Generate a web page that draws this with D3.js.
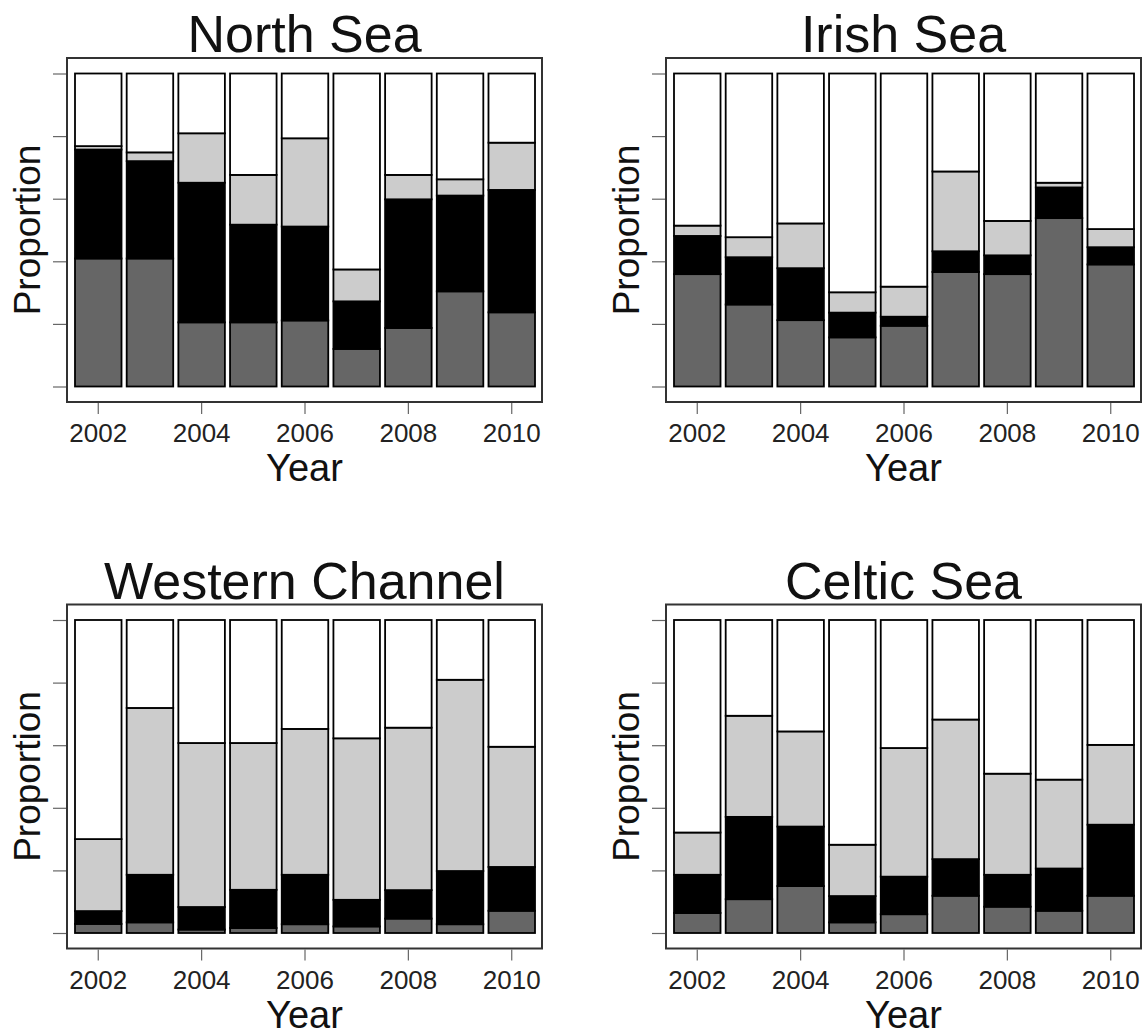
<!DOCTYPE html>
<html>
<head>
<meta charset="utf-8">
<script src="https://cdn.jsdelivr.net/npm/d3@7"></script>
<style>
  body { margin: 0; background: #fff; }
  svg { display: block; font-family: "Liberation Sans", Arial, sans-serif; }
</style>
</head>
<body>
<div id="chart"></div>
<script>
// years on the x axis
const years = [2002, 2003, 2004, 2005, 2006, 2007, 2008, 2009, 2010];
const yearTicks = [2002, 2004, 2006, 2008, 2010];
const propTicks = [0, 0.2, 0.4, 0.6, 0.8, 1];
const keys = ["dark", "black", "light", "white"];

// proportions per region, stacked bottom to top: dark grey, black, light grey, white
const northDark  = [0.409, 0.409, 0.205, 0.205, 0.211, 0.120, 0.187, 0.304, 0.237];
const northBlack = [0.348, 0.311, 0.446, 0.312, 0.300, 0.152, 0.411, 0.306, 0.391];
const northLight = [0.011, 0.028, 0.158, 0.159, 0.282, 0.102, 0.078, 0.052, 0.151];
const northWhite = [0.232, 0.252, 0.191, 0.324, 0.207, 0.626, 0.324, 0.338, 0.221];

const irishDark  = [0.359, 0.262, 0.212, 0.157, 0.194, 0.366, 0.359, 0.538, 0.390];
const irishBlack = [0.122, 0.151, 0.166, 0.079, 0.029, 0.066, 0.060, 0.098, 0.055];
const irishLight = [0.033, 0.064, 0.143, 0.065, 0.096, 0.255, 0.110, 0.015, 0.058];
const irishWhite = [0.486, 0.523, 0.479, 0.699, 0.681, 0.313, 0.471, 0.349, 0.497];

const westDark  = [0.029, 0.034, 0.011, 0.016, 0.028, 0.021, 0.046, 0.028, 0.071];
const westBlack = [0.041, 0.152, 0.072, 0.122, 0.158, 0.085, 0.091, 0.170, 0.140];
const westLight = [0.230, 0.533, 0.524, 0.469, 0.466, 0.516, 0.519, 0.611, 0.384];
const westWhite = [0.700, 0.281, 0.393, 0.393, 0.348, 0.378, 0.344, 0.191, 0.405];

const celticDark  = [0.064, 0.108, 0.150, 0.034, 0.060, 0.119, 0.084, 0.071, 0.119];
const celticBlack = [0.122, 0.263, 0.190, 0.084, 0.120, 0.117, 0.102, 0.135, 0.227];
const celticLight = [0.135, 0.323, 0.304, 0.164, 0.411, 0.446, 0.323, 0.284, 0.255];
const celticWhite = [0.679, 0.306, 0.356, 0.718, 0.409, 0.318, 0.491, 0.510, 0.399];

const panels = [
    {title: "North Sea",       ox: 0,   oy: 0,     cols: [northDark, northBlack, northLight, northWhite]},
    {title: "Irish Sea",       ox: 599, oy: 0,     cols: [irishDark, irishBlack, irishLight, irishWhite]},
    {title: "Western Channel", ox: 0,   oy: 546.5, cols: [westDark, westBlack, westLight, westWhite]},
    {title: "Celtic Sea",      ox: 599, oy: 546.5, cols: [celticDark, celticBlack, celticLight, celticWhite]}
];

let color = d3.scaleOrdinal()
    .domain(keys)
    .range(["#666666", "#000000", "#cccccc", "#ffffff"]);

const svg = d3.select("#chart")
    .append("svg")
    .attr("width", 1142)
    .attr("height", 1034);

let box = {left: 67, top: 58, right: 542, bottom: 402};

let x = d3.scaleBand()
    .domain(years)
    .range([75, 535])
    .paddingInner(0.1)
    .paddingOuter(0);

let y = d3.scaleLinear()
    .domain([0, 1])
    .range([386.5, 73.5]);

panels.forEach((p) => {
    let rows = years.map((yr, i) => {
        let r = {year: yr};
        keys.forEach((k, j) => { r[k] = p.cols[j][i]; });
        return r;
    });
    let series = d3.stack().keys(keys)(rows);

    let g = svg.append("g")
        .attr("transform", `translate(${p.ox},${p.oy})`);

    // title
    g.append("text")
        .attr("x", (box.left + box.right) / 2)
        .attr("y", 52)
        .attr("text-anchor", "middle")
        .style("font-size", "52px")
        .style("fill", "#111")
        .text(p.title);

    // bars
    g.selectAll(".layer")
        .data(series)
        .enter()
        .append("g")
        .attr("class", "layer")
        .style("fill", (d) => color(d.key))
        .selectAll("rect")
        .data((d) => d)
        .enter()
        .append("rect")
        .attr("x", (d) => x(d.data.year))
        .attr("width", x.bandwidth())
        .attr("y", (d) => y(d[1]))
        .attr("height", (d) => y(d[0]) - y(d[1]))
        .style("stroke", "#000")
        .style("stroke-width", 1.8);

    // frame
    g.append("rect")
        .attr("x", box.left)
        .attr("y", box.top)
        .attr("width", box.right - box.left)
        .attr("height", box.bottom - box.top)
        .style("fill", "none")
        .style("stroke", "#333")
        .style("stroke-width", 2);

    // y axis (ticks only)
    let yAxis = g.append("g")
        .attr("transform", `translate(${box.left - 1},0)`)
        .call(d3.axisLeft(y).tickValues(propTicks).tickSize(13).tickFormat(""));
    yAxis.select(".domain").remove();
    yAxis.selectAll("line").style("stroke", "#666").style("stroke-width", 1.2);

    // x axis
    let xAxis = g.append("g")
        .attr("transform", `translate(0,${box.bottom + 1})`)
        .call(d3.axisBottom(x).tickValues(yearTicks).tickSize(11).tickPadding(10));
    xAxis.select(".domain").remove();
    xAxis.selectAll("line").style("stroke", "#666").style("stroke-width", 1.2);
    xAxis.selectAll("text")
        .style("font-size", "26px")
        .style("font-family", "'Liberation Sans', Arial, sans-serif")
        .style("fill", "#222");

    // axis labels
    g.append("text")
        .attr("x", (box.left + box.right) / 2)
        .attr("y", 481)
        .attr("text-anchor", "middle")
        .style("font-size", "38px")
        .style("fill", "#111")
        .text("Year");

    g.append("text")
        .attr("transform", `translate(40,${(y(0) + y(1)) / 2}) rotate(-90)`)
        .attr("text-anchor", "middle")
        .style("font-size", "37px")
        .style("fill", "#111")
        .text("Proportion");
});
</script>
</body>
</html>
